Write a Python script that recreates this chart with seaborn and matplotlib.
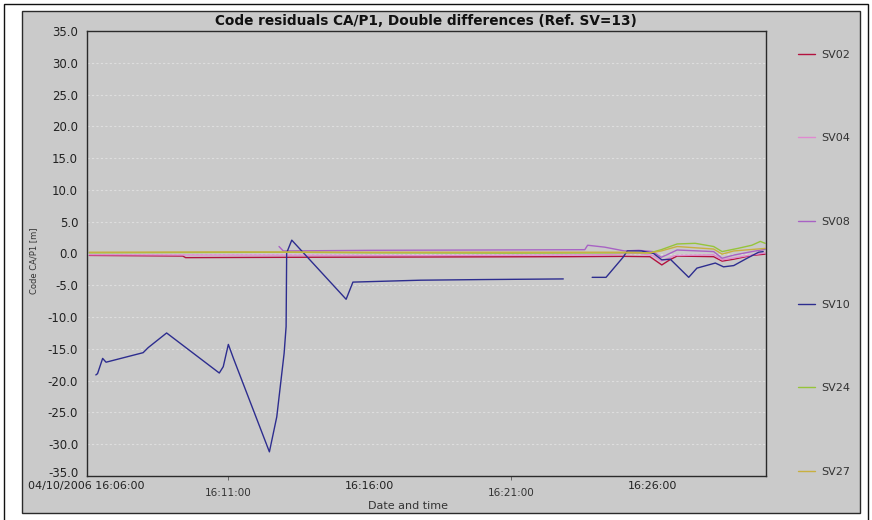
import numpy as np
import pandas as pd
import matplotlib
matplotlib.use("Agg")
import matplotlib.pyplot as plt
import matplotlib.dates as mdates
import matplotlib.transforms as mtransforms
from matplotlib.lines import Line2D
from matplotlib.patches import Rectangle
import seaborn as sns

# ---------------- data (minutes after 16:06:00, residual in m) ----------------
start = pd.Timestamp("2006-04-10 16:06:00")
sats = ["SV02", "SV04", "SV08", "SV10", "SV24", "SV27"]
colors = {"SV02": "#b3123f", "SV04": "#e08ad0", "SV08": "#a862c4",
          "SV10": "#2d2d8f", "SV24": "#96c43a", "SV27": "#c8b040"}

sv02_min = [0.1, 3.4, 3.5, 7.0, 12.0, 17.0, 19.0, 19.9, 20.32, 20.6, 20.86, 22.15, 22.45, 22.86, 23.5, 23.97]
sv02_val = [-0.3, -0.4, -0.65, -0.6, -0.55, -0.5, -0.45, -0.5, -1.8, -1.0, -0.4, -0.5, -1.2, -0.9, -0.3, -0.1]

sv04_min = [0.1, 7.0, 12.0, 18.0, 19.5, 20.0, 20.3, 20.8, 22.15, 22.45, 23.0, 23.97]
sv04_val = [-0.2, -0.25, -0.3, -0.2, 0.0, -0.3, -1.2, -0.3, -0.2, -1.0, -0.6, 0.1]

sv08_min = [6.8, 6.95, 10.0, 14.0, 17.6, 17.7, 18.3, 19.0, 19.5, 20.0, 20.3, 20.5, 20.86, 22.15, 22.45, 22.86, 23.5, 23.97]
sv08_val = [1.1, 0.4, 0.5, 0.55, 0.6, 1.3, 1.0, 0.4, 0.5, 0.3, -0.6, -0.2, 0.55, 0.3, -0.75, -0.25, 0.3, 0.65]

sv10a_min = [0.33, 0.39, 0.57, 0.69, 2.00, 2.18, 2.83, 4.69, 4.83, 5.01, 5.19, 6.46, 6.72, 6.98, 7.05,
             7.07, 7.25, 9.17, 9.41, 11.8, 14.0, 16.84]
sv10a_val = [-19.1, -18.9, -16.5, -17.1, -15.6, -14.8, -12.5, -18.8, -17.8, -14.3, -16.5, -31.2, -25.7, -15.7, -11.5,
             0.1, 2.1, -7.2, -4.5, -4.2, -4.1, -4.0]
sv10b_min = [17.86, 18.35, 18.95, 19.1, 19.6, 20.03, 20.32, 20.62, 21.27, 21.56, 22.21, 22.50, 22.86, 23.33, 23.74, 23.9]
sv10b_val = [-3.75, -3.75, -0.6, 0.4, 0.4, 0.0, -1.0, -0.9, -3.75, -2.3, -1.5, -2.1, -1.9, -0.75, 0.2, 0.3]

sv24_min = [0.1, 3.4, 7.0, 10.0, 15.0, 19.0, 19.9, 20.3, 20.86, 21.5, 22.15, 22.45, 23.0, 23.5, 23.8, 23.97]
sv24_val = [0.1, 0.15, 0.2, 0.1, 0.05, 0.1, 0.1, 0.6, 1.5, 1.6, 1.1, 0.3, 0.8, 1.3, 1.9, 1.6]

sv27_min = [0.1, 5.0, 10.0, 15.0, 19.0, 19.9, 20.3, 20.86, 22.15, 22.45, 22.86, 23.97]
sv27_val = [0.2, 0.25, 0.2, 0.2, 0.2, 0.1, 0.4, 1.1, 0.7, -0.1, 0.4, 0.8]

y_ticks = list(range(-35, 40, 5))
y_ticklabels = [f"{v:.1f}" for v in y_ticks]
x_major_min = [0, 10, 20]
x_major_labels = ["04/10/2006 16:06:00", "16:16:00", "16:26:00"]
x_minor_min = [5, 15]
x_minor_labels = ["16:11:00", "16:21:00"]

title = "Code residuals CA/P1, Double differences (Ref. SV=13)"

# ---------------- long-form table ----------------
series = [("SV02", 0, sv02_min, sv02_val), ("SV04", 0, sv04_min, sv04_val),
          ("SV08", 0, sv08_min, sv08_val), ("SV24", 0, sv24_min, sv24_val),
          ("SV27", 0, sv27_min, sv27_val),
          ("SV10", 0, sv10a_min, sv10a_val), ("SV10", 1, sv10b_min, sv10b_val)]
rows = []
for sv, seg, mins, vals in series:
    for m, v in zip(mins, vals):
        rows.append({"sv": sv, "seg": f"{sv}_{seg}",
                     "time": start + pd.Timedelta(minutes=m), "res": v})
df = pd.DataFrame(rows)

# ---------------- figure ----------------
sns.set_style("white")
plt.rcParams["font.family"] = ["DejaVu Sans"]

W, H = 872, 520
fig = plt.figure(figsize=(W / 100, H / 100), dpi=100, facecolor="white")

panel_col = "#cacaca"
fig.patches.append(Rectangle((22 / W, 1 - 513 / H), (860 - 22) / W, (513 - 11) / H,
                             transform=fig.transFigure, facecolor=panel_col,
                             edgecolor="#2a2a2a", lw=1.0, zorder=-2))
fig.patches.append(Rectangle((3.5 / W, -0.02), (868 - 3.5) / W, 1.02 - 3.5 / H,
                             transform=fig.transFigure, facecolor="none",
                             edgecolor="#111111", lw=1.0, zorder=-2))

ax = fig.add_axes([86.5 / W, 1 - 476 / H, (766 - 86.5) / W, (476 - 31) / H])
ax.set_facecolor(panel_col)

sns.lineplot(data=df, x="time", y="res", hue="sv", units="seg", estimator=None,
             hue_order=sats, palette=colors, sort=False, lw=1.0, legend=False, ax=ax)

ax.set_xlim(mdates.date2num(start), mdates.date2num(start + pd.Timedelta(minutes=24)))
ax.set_ylim(-35, 35)

ax.set_yticks(y_ticks, labels=y_ticklabels)
ax.set_xticks([mdates.date2num(start + pd.Timedelta(minutes=m)) for m in x_major_min],
              labels=x_major_labels)
ax.set_xticks([mdates.date2num(start + pd.Timedelta(minutes=m)) for m in x_minor_min],
              labels=x_minor_labels, minor=True)

ax.tick_params(axis="y", length=0, pad=6, labelsize=8.5, labelcolor="#222222")
ax.tick_params(axis="x", which="major", length=0, pad=3.5, labelsize=8, labelcolor="#222222")
ax.tick_params(axis="x", which="minor", length=3, pad=6, labelsize=7.5, labelcolor="#333333",
               color="#555555", bottom=True)

# nudge the bottom y label up slightly so it clears the date label
lowest = ax.yaxis.get_major_ticks()[0].label1
lowest.set_transform(lowest.get_transform() +
                     mtransforms.ScaledTranslation(0, 4 / 100, fig.dpi_scale_trans))

ax.yaxis.grid(True, color="#dedede", ls=(0, (2, 2)), lw=0.8)
ax.xaxis.grid(False)
for sp in ax.spines.values():
    sp.set_visible(True)
    sp.set_color("#2a2a2a")
    sp.set_linewidth(1.0)

ax.set_xlabel("Date and time", fontsize=8, color="#333333")
ax.xaxis.set_label_coords((408 - 86.5) / (766 - 86.5), (476 - 506) / (476 - 31))
ax.xaxis.label.set_va("center")
ax.set_ylabel("Code CA/P1 [m]", fontsize=6, color="#333333")
ax.yaxis.set_label_coords((34 - 86.5) / (766 - 86.5), (476 - 261) / (476 - 31))
ax.yaxis.label.set_va("center")

fig.text(426 / W, 1 - 21 / H, title, ha="center", va="center",
         fontsize=9.8, fontweight="bold", color="#111111")

handles = [Line2D([0], [0], color=colors[s], lw=1.0) for s in sats]
fig.legend(handles, sats, loc="upper left", bbox_to_anchor=(798 / W, 1 - 50 / H),
           frameon=False, fontsize=8, handlelength=1.55, handletextpad=0.55,
           labelspacing=6.6, borderpad=0, borderaxespad=0, labelcolor="#333333")

fig.savefig("out.png", dpi=100, facecolor="white")
